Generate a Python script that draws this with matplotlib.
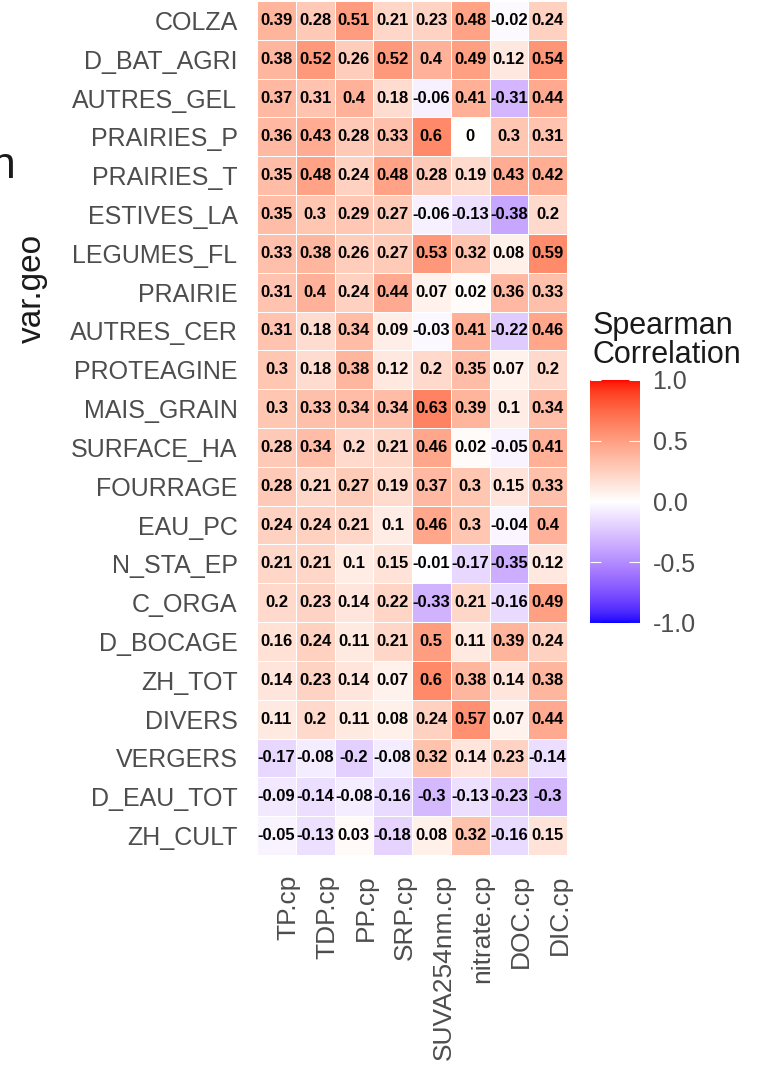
import numpy as np
import matplotlib
matplotlib.use('Agg')
import matplotlib.pyplot as plt
from matplotlib.colors import ListedColormap

# ---------------------------------------------------------------------------
# Data
# ---------------------------------------------------------------------------

rows = ['COLZA', 'D_BAT_AGRI', 'AUTRES_GEL', 'PRAIRIES_P', 'PRAIRIES_T',
        'ESTIVES_LA', 'LEGUMES_FL', 'PRAIRIE', 'AUTRES_CER', 'PROTEAGINE',
        'MAIS_GRAIN', 'SURFACE_HA', 'FOURRAGE', 'EAU_PC', 'N_STA_EP',
        'C_ORGA', 'D_BOCAGE', 'ZH_TOT', 'DIVERS', 'VERGERS', 'D_EAU_TOT',
        'ZH_CULT']

cols = ['TP.cp', 'TDP.cp', 'PP.cp', 'SRP.cp', 'SUVA254nm.cp',
        'nitrate.cp', 'DOC.cp', 'DIC.cp']

tp      = [0.39, 0.38, 0.37, 0.36, 0.35, 0.35, 0.33, 0.31, 0.31, 0.3, 0.3,
           0.28, 0.28, 0.24, 0.21, 0.2, 0.16, 0.14, 0.11, -0.17, -0.09, -0.05]
tdp     = [0.28, 0.52, 0.31, 0.43, 0.48, 0.3, 0.38, 0.4, 0.18, 0.18, 0.33,
           0.34, 0.21, 0.24, 0.21, 0.23, 0.24, 0.23, 0.2, -0.08, -0.14, -0.13]
pp      = [0.51, 0.26, 0.4, 0.28, 0.24, 0.29, 0.26, 0.24, 0.34, 0.38, 0.34,
           0.2, 0.27, 0.21, 0.1, 0.14, 0.11, 0.14, 0.11, -0.2, -0.08, 0.03]
srp     = [0.21, 0.52, 0.18, 0.33, 0.48, 0.27, 0.27, 0.44, 0.09, 0.12, 0.34,
           0.21, 0.19, 0.1, 0.15, 0.22, 0.21, 0.07, 0.08, -0.08, -0.16, -0.18]
suva    = [0.23, 0.4, -0.06, 0.6, 0.28, -0.06, 0.53, 0.07, -0.03, 0.2, 0.63,
           0.46, 0.37, 0.46, -0.01, -0.33, 0.5, 0.6, 0.24, 0.32, -0.3, 0.08]
nitrate = [0.48, 0.49, 0.41, 0.0, 0.19, -0.13, 0.32, 0.02, 0.41, 0.35, 0.39,
           0.02, 0.3, 0.3, -0.17, 0.21, 0.11, 0.38, 0.57, 0.14, -0.13, 0.32]
doc     = [-0.02, 0.12, -0.31, 0.3, 0.43, -0.38, 0.08, 0.36, -0.22, 0.07, 0.1,
           -0.05, 0.15, -0.04, -0.35, -0.16, 0.39, 0.14, 0.07, 0.23, -0.23, -0.16]
dic     = [0.24, 0.54, 0.44, 0.31, 0.42, 0.2, 0.59, 0.33, 0.46, 0.2, 0.34,
           0.41, 0.33, 0.4, 0.12, 0.49, 0.24, 0.38, 0.44, -0.14, -0.3, 0.15]

cbar_ticks = [-1.0, -0.5, 0.0, 0.5, 1.0]

# ---------------------------------------------------------------------------
# Style
# ---------------------------------------------------------------------------

plt.rcParams.update({
    'font.family': ['Liberation Sans', 'DejaVu Sans'],
    'axes.unicode_minus': False,
})
GREY = '#4D4D4D'


# Lab-space blue-white-red gradient (like ggplot's scale_fill_gradient2)
def _srgb_to_lab(rgb):
    rgb = np.asarray(rgb, dtype=float)
    lin = np.where(rgb <= 0.04045, rgb / 12.92, ((rgb + 0.055) / 1.055) ** 2.4)
    m = np.array([[0.4124, 0.3576, 0.1805],
                  [0.2126, 0.7152, 0.0722],
                  [0.0193, 0.1192, 0.9505]])
    xyz = m @ lin / np.array([0.95047, 1.0, 1.08883])
    f = np.where(xyz > 216 / 24389, np.cbrt(xyz), (24389 / 27 * xyz + 16) / 116)
    return np.array([116 * f[1] - 16, 500 * (f[0] - f[1]), 200 * (f[1] - f[2])])


def _lab_to_srgb(lab):
    L, a, b = lab
    fy = (L + 16) / 116
    fx = fy + a / 500
    fz = fy - b / 200
    f = np.array([fx, fy, fz])
    xyz = np.where(f ** 3 > 216 / 24389, f ** 3, (116 * f - 16) / (24389 / 27))
    xyz = xyz * np.array([0.95047, 1.0, 1.08883])
    minv = np.array([[3.2406, -1.5372, -0.4986],
                     [-0.9689, 1.8758, 0.0415],
                     [0.0557, -0.2040, 1.0570]])
    lin = np.clip(minv @ xyz, 0, 1)
    rgb = np.where(lin <= 0.0031308, 12.92 * lin, 1.055 * lin ** (1 / 2.4) - 0.055)
    return np.clip(rgb, 0, 1)


lab_low = _srgb_to_lab([0, 0, 1])
lab_mid = _srgb_to_lab([1, 1, 1])
lab_high = _srgb_to_lab([1, 0, 0])
colors = []
for t in np.linspace(-1, 1, 512):
    if t < 0:
        lab = lab_mid + (lab_low - lab_mid) * (-t)
    else:
        lab = lab_mid + (lab_high - lab_mid) * t
    colors.append(_lab_to_srgb(lab))
cmap = ListedColormap(colors)

# ---------------------------------------------------------------------------
# Plot
# ---------------------------------------------------------------------------

W, H = 770, 1075
fig = plt.figure(figsize=(W / 100, H / 100), dpi=100)
ax = fig.add_axes([257 / W, 1 - 855 / H, 310 / W, 854 / H])

values = np.array([tp, tdp, pp, srp, suva, nitrate, doc, dic]).T
mesh = ax.pcolormesh(np.arange(len(cols) + 1), np.arange(len(rows) + 1), values,
                     cmap=cmap, vmin=-1, vmax=1, edgecolors='white', linewidth=0.6)
ax.set_xlim(0, len(cols))
ax.set_ylim(len(rows), 0)

for i in range(len(rows)):
    for j in range(len(cols)):
        v = round(float(values[i, j]), 2)
        ax.text(j + 0.5, i + 0.5, f'{v:g}', ha='center', va='center',
                fontsize=12, fontweight='bold', color='black')

ax.set_yticks(np.arange(len(rows)) + 0.5)
ax.set_yticklabels(rows, fontsize=18, color=GREY)
ax.set_xticks(np.arange(len(cols)) + 0.5)
ax.set_xticklabels(cols, fontsize=19, color=GREY, rotation=90, ha='left', va='top')
ax.tick_params(axis='both', length=0)
ax.tick_params(axis='y', pad=14)
ax.tick_params(axis='x', pad=14)
for s in ax.spines.values():
    s.set_visible(False)

fig.text(32 / W, 1 - 288 / H, 'var.geo', rotation=90, ha='center', va='center',
         fontsize=24, color='#1A1A1A')
# fragment of a cropped neighbour label at the left edge
fig.text(-9 / W, 1 - 178 / H, 'n', ha='left', va='baseline', fontsize=32,
         color='#1A1A1A')

# colour bar legend
cax = fig.add_axes([590 / W, 1 - 623 / H, 50 / W, 243 / H])
cbar = fig.colorbar(mesh, cax=cax, ticks=cbar_ticks)
cbar.outline.set_visible(False)
cbar.ax.set_yticklabels([f'{t:.1f}' for t in cbar_ticks], fontsize=18, color=GREY)
cbar.ax.tick_params(left=True, right=True, direction='in', color='white',
                    length=8, width=0.8, pad=9)
fig.text(593 / W, 1 - 311 / H, 'Spearman\nCorrelation', ha='left', va='top',
         fontsize=22, color='#1A1A1A', linespacing=0.95)

fig.savefig('out.png', dpi=100, facecolor='white')
